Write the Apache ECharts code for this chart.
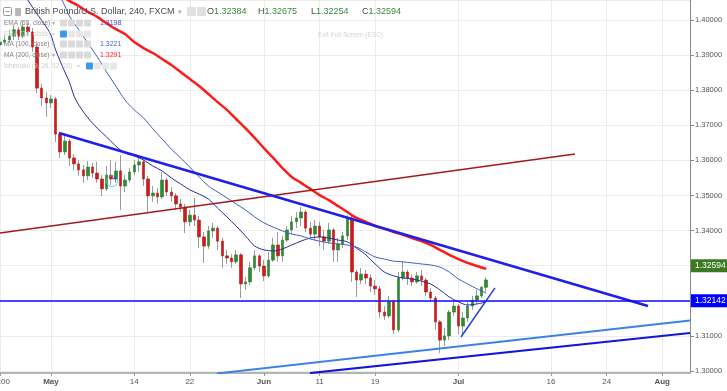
<!DOCTYPE html>
<html><head><meta charset="utf-8">
<script src="https://cdn.jsdelivr.net/npm/echarts@6/dist/echarts.min.js"></script>
<style>html,body{margin:0;padding:0;background:#fff}#main{width:727px;height:391px}</style>
</head><body><div id="main"></div>
<script>
// ---- time axis (half trading-day slots) ----
const slotCount = 150;
const tickSlots  = [0, 11, 29, 41, 57, 69, 81, 99, 119, 131, 143];
const tickLabels = ['12:00', 'May', '14', '22', 'Jun', '11', '19', 'Jul', '16', '24', 'Aug'];
const boldLabels = ['May', 'Jun', 'Jul', 'Aug'];

// ---- price axis ----
const yMin = 1.29943;
const yMax = 1.40570;

// ---- candles (GBP/USD) ----
const opens = [1.3929,1.3937,1.3943,1.3954,1.3972,1.3954,1.3980,1.3966,1.3923,1.3806,
1.3778,1.3764,1.3775,1.3675,1.3624,1.3655,1.3607,1.3590,1.3573,1.3556,
1.3581,1.3564,1.3547,1.3519,1.3558,1.3547,1.3570,1.3527,1.3544,1.3567,
1.3587,1.3596,1.3547,1.3499,1.3507,1.3496,1.3544,1.3510,1.3499,1.3476,
1.3467,1.3425,1.3444,1.3430,1.3382,1.3356,1.3399,1.3407,1.3370,1.3328,
1.3322,1.3311,1.3331,1.3248,1.3254,1.3294,1.3328,1.3299,1.3271,1.3316,
1.3359,1.3328,1.3373,1.3402,1.3425,1.3436,1.3453,1.3407,1.3390,1.3413,
1.3382,1.3370,1.3402,1.3345,1.3362,1.3385,1.3436,1.3282,1.3259,1.3276,
1.3265,1.3242,1.3234,1.3168,1.3157,1.3197,1.3117,1.3265,1.3282,1.3265,
1.3254,1.3271,1.3259,1.3225,1.3208,1.3140,1.3088,1.3100,1.3168,1.3185,
1.3128,1.3151,1.3185,1.3202,1.3214,1.32384];
const closes = [1.3937,1.3943,1.3954,1.3972,1.3954,1.3980,1.3966,1.3923,1.3806,1.3778,
1.3764,1.3775,1.3675,1.3624,1.3655,1.3607,1.3590,1.3573,1.3556,1.3581,
1.3564,1.3547,1.3519,1.3558,1.3547,1.3570,1.3527,1.3544,1.3567,1.3587,
1.3596,1.3547,1.3499,1.3507,1.3496,1.3544,1.3510,1.3499,1.3476,1.3467,
1.3425,1.3444,1.3430,1.3382,1.3356,1.3399,1.3407,1.3370,1.3328,1.3322,
1.3311,1.3331,1.3248,1.3254,1.3294,1.3328,1.3299,1.3271,1.3316,1.3359,
1.3328,1.3373,1.3402,1.3425,1.3436,1.3453,1.3407,1.3390,1.3413,1.3382,
1.3370,1.3402,1.3345,1.3362,1.3385,1.3436,1.3282,1.3259,1.3276,1.3265,
1.3242,1.3234,1.3168,1.3157,1.3197,1.3117,1.3265,1.3282,1.3265,1.3254,
1.3271,1.3259,1.3225,1.3208,1.3140,1.3088,1.3100,1.3168,1.3185,1.3128,
1.3151,1.3185,1.3202,1.3214,1.32384,1.32594];
const highs = [1.3954,1.3957,1.3972,1.3986,1.3980,1.3994,1.3992,1.3977,1.3932,1.3818,
1.3795,1.3786,1.3781,1.3681,1.3670,1.3661,1.3618,1.3601,1.3587,1.3598,
1.3593,1.3596,1.3558,1.3584,1.3601,1.3596,1.3615,1.3558,1.3578,1.3601,
1.3610,1.3601,1.3556,1.3527,1.3521,1.3567,1.3550,1.3524,1.3507,1.3490,
1.3476,1.3459,1.3493,1.3442,1.3396,1.3413,1.3422,1.3413,1.3379,1.3345,
1.3333,1.3345,1.3336,1.3268,1.3311,1.3345,1.3333,1.3316,1.3339,1.3379,
1.3396,1.3385,1.3413,1.3442,1.3453,1.3467,1.3459,1.3425,1.3430,1.3425,
1.3402,1.3422,1.3407,1.3379,1.3396,1.3444,1.3442,1.3288,1.3294,1.3288,
1.3276,1.3259,1.3242,1.3185,1.3214,1.3202,1.3282,1.3311,1.3288,1.3276,
1.3282,1.3288,1.3265,1.3236,1.3214,1.3145,1.3123,1.3174,1.3202,1.3191,
1.3168,1.3197,1.3214,1.3231,1.3242,1.32675];
const lows = [1.3923,1.3929,1.3935,1.3943,1.3943,1.3949,1.3954,1.3909,1.3792,1.3755,
1.3724,1.3749,1.3652,1.3607,1.3615,1.3584,1.3573,1.3556,1.3536,1.3544,
1.3550,1.3536,1.3499,1.3513,1.3530,1.3536,1.3459,1.3510,1.3536,1.3558,
1.3567,1.3527,1.3453,1.3482,1.3476,1.3490,1.3499,1.3482,1.3459,1.3453,
1.3393,1.3413,1.3413,1.3350,1.3308,1.3348,1.3379,1.3345,1.3294,1.3305,
1.3294,1.3305,1.3208,1.3231,1.3245,1.3288,1.3282,1.3256,1.3265,1.3311,
1.3311,1.3311,1.3368,1.3390,1.3407,1.3413,1.3396,1.3379,1.3373,1.3356,
1.3345,1.3362,1.3311,1.3311,1.3350,1.3373,1.3254,1.3211,1.3248,1.3248,
1.3225,1.3217,1.3151,1.3145,1.3151,1.3105,1.3111,1.3259,1.3245,1.3242,
1.3248,1.3242,1.3214,1.3197,1.3117,1.3051,1.3071,1.3088,1.3157,1.3105,
1.3103,1.3140,1.3174,1.3191,1.3208,1.32254];

// ---- moving averages (read at slot positions) ----
const emaSlots = [5,6,8,10,11,12,13,14,15,16,17,19,21,23,25,27,29,31,33,35,37,39,41,43,45,47,49,51,53,55,57,59,61,63,65,67,69,71,73,75,77,79,81,83,85,87,89,91,93,95,97,99,101,103,105];
const ema55 = [1.4077,1.4057,1.4017,1.3980,1.3957,1.3915,1.3883,1.3852,1.3823,1.3783,1.3758,1.3721,1.3692,1.3667,1.3641,1.3621,1.3613,1.3601,1.3584,1.3570,1.3550,1.3533,1.3516,1.3504,1.3490,1.3464,1.3439,1.3413,1.3385,1.3356,1.3345,1.3342,1.3348,1.3359,1.3370,1.3379,1.3382,1.3379,1.3373,1.3368,1.3350,1.3331,1.3305,1.3282,1.3271,1.3265,1.3262,1.3256,1.3248,1.3231,1.3211,1.3197,1.3188,1.3191,1.3197];
const ma100Slots = [13,14,15,17,19,21,23,25,27,29,31,33,35,37,39,41,43,45,47,49,51,53,55,57,59,61,63,65,67,69,71,73,75,77,79,81,83,85,87,89,91,93,95,97,99,101,103,105];
const ma100 = [1.4068,1.4040,1.4011,1.3972,1.3934,1.3895,1.3852,1.3812,1.3772,1.3744,1.3721,1.3690,1.3661,1.3632,1.3607,1.3581,1.3553,1.3527,1.3510,1.3493,1.3476,1.3459,1.3439,1.3422,1.3410,1.3399,1.3390,1.3385,1.3376,1.3370,1.3365,1.3362,1.3359,1.3353,1.3339,1.3325,1.3319,1.3313,1.3311,1.3308,1.3305,1.3302,1.3296,1.3282,1.3262,1.3248,1.3234,1.3222];
const ma200Slots = [14,15,17,19,21,23,25,27,29,31,33,35,37,39,41,43,45,47,49,51,53,55,57,59,61,63,65,67,69,71,73,75,77,79,81,83,85,87,89,91,93,95,97,99,101,103,105];
const ma200 = [1.4063,1.4054,1.4040,1.4023,1.4009,1.3991,1.3974,1.3960,1.3937,1.3920,1.3906,1.3889,1.3872,1.3852,1.3832,1.3812,1.3789,1.3766,1.3744,1.3718,1.3692,1.3664,1.3635,1.3607,1.3578,1.3553,1.3536,1.3519,1.3501,1.3487,1.3470,1.3453,1.3436,1.3425,1.3413,1.3405,1.3396,1.3388,1.3379,1.3370,1.3359,1.3345,1.3331,1.3319,1.3308,1.3299,1.3291];

// ---- drawn trend lines [slot, price] ----
const resistanceLine = [[12.74, 1.3678], [139.93, 1.3185]];
const brownLine      = [[0, 1.3393], [124.16, 1.3618]];
const lightChannel   = [[46.86, 1.2993], [149, 1.3144]];
const darkChannel    = [[66.94, 1.2994], [149, 1.3108]];
const wedgeLine      = [[99.55, 1.3097], [106.89, 1.3237]];
const supportLevel = 1.32142;
const lastPrice = 1.32594;
const markerPoint = [[24.19, 1.3541]];
const markerInner = [[24.8, 1.3552]];

const FONT = '"Liberation Sans", Arial, sans-serif';
const categories = Array.from({length: slotCount}, (_, i) => String(i));
const labelBySlot = {};
tickSlots.forEach((s, k) => { labelBySlot[s] = tickLabels[k]; });
const isTick = (i) => labelBySlot[i] !== undefined;

const candleData = opens.map((o, i) => [o, closes[i], lows[i], highs[i]]);
const bodyData = opens.map((o, i) => [o, closes[i], Math.min(o, closes[i]), Math.max(o, closes[i])]);
const pairs = (xs, ys) => xs.map((x, i) => [x, ys[i]]);

function lineSeries(name, data, color, width, smooth) {
  return {type: 'line', name, xAxisIndex: 1, data, symbol: 'none', smooth: smooth ? 0.3 : false,
    lineStyle: {color, width}, silent: true, z: 3, animation: false};
}

// ---- legend graphics ----
const G = [];
function T(x, y, text, fill, size, weight) {
  G.push({type: 'text', x, y, silent: true, z: 100,
    style: {text, fill, font: (weight || 'normal') + ' ' + size + 'px ' + FONT, verticalAlign: 'middle', align: 'left'}});
}
function R(x, y, w, h, fill, stroke) {
  G.push({type: 'rect', silent: true, z: 100, shape: {x, y, width: w, height: h, r: 1},
    style: {fill: fill || 'none', stroke: stroke || null, lineWidth: 1}});
}
R(3.5, 7.5, 8, 8, '#fff', '#9a9a9a');
G.push({type: 'line', silent: true, z: 101, shape: {x1: 5.5, y1: 11.5, x2: 9.5, y2: 11.5}, style: {stroke: '#9a9a9a', lineWidth: 1}});
R(15, 8, 6, 8, '#b8b8b8');
T(25, 12, 'British Pound/U.S. Dollar, 240, FXCM', '#4a4a4a', 9);
T(178, 12, '▾', '#aaaaaa', 7);
R(187, 7, 9, 9, '#e0e0e0');
R(197, 7, 9, 9, '#e0e0e0');
const ohlcKeys = ['O', 'H', 'L', 'C'];
const ohlcVals = ['1.32384', '1.32675', '1.32254', '1.32594'];
const ohlcX = [207, 258, 311, 362];
const keyW = {O: 7, H: 6.5, L: 5, C: 6.5};
ohlcKeys.forEach((k, i) => {
  T(ohlcX[i], 12, k, '#4a4a4a', 9);
  T(ohlcX[i] + keyW[k], 12, ohlcVals[i], '#3a8a3a', 9);
});
T(318, 35, 'Exit Full Screen (ESC)', '#d4d4d4', 6.5);
const rows = [
  {y: 23, name: 'EMA (55, close)', faded: false, value: '1.3198', vcolor: '#4646c0', ax: 52, ix: 60},
  {y: 34, name: 'EMA (34, close)', faded: true, ax: 52, ix: 60},
  {y: 44, name: 'MA (100, close)', faded: false, value: '1.3221', vcolor: '#4466cc', ax: 52, ix: 60},
  {y: 55, name: 'MA (200, close)', faded: false, value: '1.3291', vcolor: '#ff2a2a', ax: 52, ix: 60},
  {y: 66, name: 'Ichimoku (9, 26, 52, 26)', faded: true, ax: 77, ix: 86}
];
rows.forEach(r => {
  T(4, r.y, r.name, r.faded ? '#cdcdcd' : '#858585', 6.5);
  T(r.ax, r.y, '▾', r.faded ? '#d5d5d5' : '#aaaaaa', 6);
  for (let k = 0; k < 4; k++) {
    const f = (r.faded && k === 0) ? '#3a9ae6' : (r.faded ? '#e8e8e8' : '#dadada');
    R(r.ix + k * 8, r.y - 3.5, 7, 7, f);
  }
  if (r.value) T(100, r.y, r.value, r.vcolor, 7);
});
// cover the bottom-right corner of the price scale (time-scale band)
R(691, 375, 36, 16, '#ffffff');

const option = {
  animation: false,
  backgroundColor: '#ffffff',
  grid: {left: 0, right: 37, top: 0, bottom: 18, containLabel: false, outerBoundsMode: 'none'},
  xAxis: [
    {type: 'category', data: categories, boundaryGap: false,
      axisLine: {onZero: false, lineStyle: {color: '#b4b4b4', width: 2}},
      axisTick: {show: true, length: 3, interval: isTick, lineStyle: {color: '#999'}},
      axisLabel: {interval: isTick, color: '#555', fontSize: 8, fontFamily: FONT, margin: 5,
        formatter: (v, i) => { const t = labelBySlot[i]; if (t === undefined) return ''; return boldLabels.includes(t) ? '{b|' + t + '}' : t; },
        rich: {b: {fontWeight: 'bold', fontSize: 8, color: '#555', fontFamily: FONT}}},
      splitLine: {show: true, interval: isTick, lineStyle: {color: '#ececec'}}},
    {type: 'value', min: 0, max: slotCount - 1, show: false, position: 'top'}
  ],
  yAxis: {type: 'value', position: 'right', min: yMin, max: yMax, splitNumber: 10,
    axisLine: {show: true, onZero: false, lineStyle: {color: '#8a8a8a'}},
    axisTick: {show: true, length: 4, lineStyle: {color: '#8a8a8a'}},
    axisLabel: {fontSize: 7.5, color: '#555', fontFamily: FONT, margin: 5, formatter: v => v.toFixed(5), showMinLabel: false, showMaxLabel: false},
    splitLine: {lineStyle: {color: '#ececec'}}},
  graphic: G,
  series: [
    {type: 'candlestick', name: 'wick', data: candleData, barWidth: 1, silent: true,
      itemStyle: {color: '#9b9b9b', color0: '#9b9b9b', borderColor: '#9b9b9b', borderColor0: '#9b9b9b', borderWidth: 1}},
    {type: 'candlestick', name: 'body', data: bodyData, barWidth: 3, silent: true,
      itemStyle: {color: '#2f8a34', color0: '#cf1b1b', borderColor: '#2a7a2e', borderColor0: '#b51515', borderWidth: 0.6}},
    lineSeries('EMA 55', pairs(emaSlots, ema55), '#2b2b9b', 1, true),
    lineSeries('MA 100', pairs(ma100Slots, ma100), '#4060c0', 1, true),
    lineSeries('MA 200', pairs(ma200Slots, ma200), '#ff1a1a', 2.5, true),
    lineSeries('brown', brownLine, '#a31a1a', 1.5, false),
    lineSeries('resistance', resistanceLine, '#1f1fe8', 2.5, false),
    lineSeries('lightChannel', lightChannel, '#3a82e6', 2, false),
    lineSeries('darkChannel', darkChannel, '#1515d8', 2, false),
    lineSeries('wedge', wedgeLine, '#1f3fe0', 1.5, false),
    {type: 'scatter', xAxisIndex: 1, data: markerPoint, symbol: 'circle', symbolSize: 11, silent: true, z: 4,
      itemStyle: {color: 'rgba(0,0,0,0)', borderColor: '#3cc8e0', borderWidth: 1}},
    {type: 'scatter', xAxisIndex: 1, data: markerInner, symbol: 'triangle', symbolSize: 4, silent: true, z: 4,
      itemStyle: {color: '#2a3ad0'}},
    {type: 'line', xAxisIndex: 1, data: [], silent: true, z: 5,
      markLine: {silent: true, symbol: ['none', 'none'], animation: false,
        data: [
          {yAxis: supportLevel, lineStyle: {color: '#0b0bff', width: 1.5, type: 'solid'},
            label: {show: true, position: 'end', formatter: supportLevel.toFixed(5), color: '#fff', backgroundColor: '#0000ff',
              padding: [2, 4, 2, 4], fontSize: 8.5, fontFamily: FONT, distance: 1, opacity: 1}},
          {yAxis: lastPrice, lineStyle: {color: 'rgba(0,0,0,0)', width: 0},
            label: {show: true, position: 'end', formatter: lastPrice.toFixed(5), color: '#fff', backgroundColor: '#3c7a22',
              padding: [2, 4, 2, 4], fontSize: 8.5, fontFamily: FONT, distance: 1, opacity: 1}}
        ]}}
  ]
};
const chart = echarts.init(document.getElementById('main'));
chart.setOption(option);
</script>
</body></html>
